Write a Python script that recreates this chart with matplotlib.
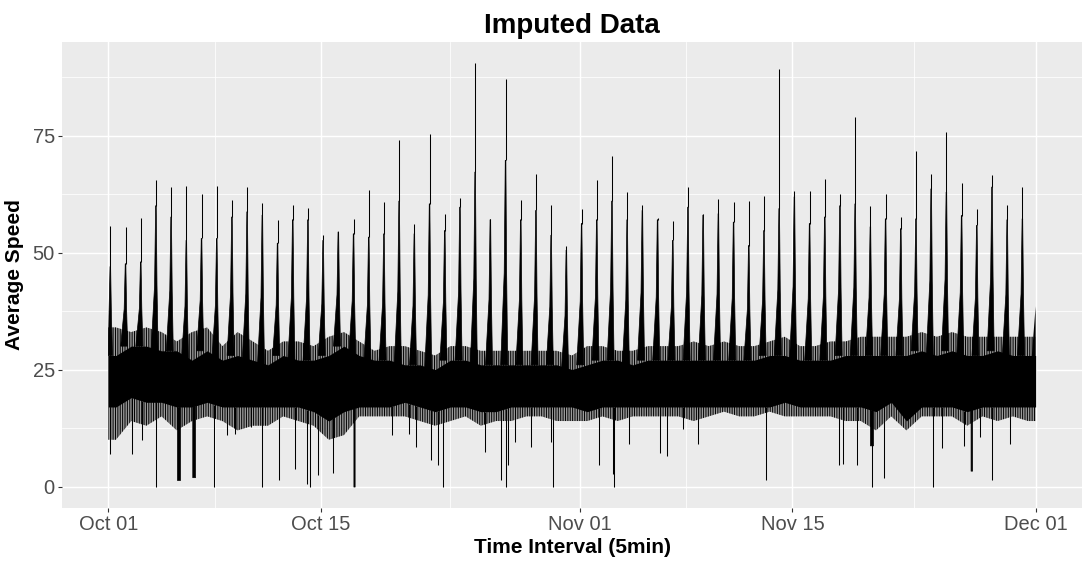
import numpy as np
import pandas as pd
import matplotlib
matplotlib.use("Agg")
import matplotlib.pyplot as plt
import matplotlib.dates as mdates

plt.rcParams["font.family"] = ["Liberation Sans", "DejaVu Sans"]
plt.rcParams["hatch.linewidth"] = 0.7
plt.rcParams["hatch.color"] = "black"

# ---- daily summary of the 5-minute speed series (Oct 01 - Nov 30) ----
start_date = "2016-10-01"
n_days = 61

# early-morning free-flow spike: needle top and top of the solid body
peak_speed = [55.6, 55.5, 57.4, 65.6, 63.9, 64.3, 62.6, 64.3, 61.2, 63.9,
              60.6, 57.0, 60.2, 59.6, 53.7, 54.4, 57.2, 63.4, 60.7, 74.1,
              56.0, 75.3, 58.2, 61.7, 90.4, 57.2, 87.1, 61.2, 66.7, 60.2,
              51.5, 59.4, 65.6, 70.6, 62.9, 60.2, 57.4, 56.7, 63.9, 58.2,
              61.5, 60.7, 61.0, 62.1, 89.2, 63.1, 63.1, 65.8, 62.6, 79.0,
              60.0, 62.6, 57.6, 71.7, 66.7, 75.8, 64.9, 59.4, 66.5, 60.1,
              64.0]
body_speed = [47.0, 47.6, 48.0, 60.0, 57.6, 52.6, 53.0, 53.0, 57.6, 58.7,
              58.0, 52.0, 57.0, 57.0, 52.6, 54.4, 54.0, 53.3, 54.0, 61.0,
              54.0, 60.4, 54.7, 59.7, 67.2, 57.0, 69.7, 57.0, 59.0, 53.7,
              50.5, 56.2, 57.0, 61.0, 57.0, 59.0, 57.0, 52.6, 59.7, 58.0,
              58.3, 56.5, 51.5, 54.7, 59.4, 61.9, 56.2, 57.6, 60.0, 60.4,
              55.5, 57.2, 55.1, 57.2, 63.6, 62.9, 57.9, 55.8, 64.0, 57.0,
              57.2]

# dense daytime band: solid core and the ragged fringe around it
core_hi = [28, 30, 30, 29, 29, 27, 29, 27, 28, 27,
           26, 28, 27, 27, 28, 30, 28, 27, 27, 26,
           26, 25, 27, 27, 26, 26, 26, 26, 26, 26,
           25, 26, 27, 27, 26, 27, 27, 27, 27, 27,
           27, 27, 27, 28, 28, 27, 27, 27, 28, 28,
           28, 28, 28, 29, 28, 29, 28, 28, 29, 28,
           28]
core_lo = [17, 19, 18, 18, 17, 17, 18, 17, 17, 17,
           17, 17, 17, 16, 14, 16, 17, 17, 17, 18,
           17, 16, 17, 17, 16, 16, 17, 17, 17, 17,
           17, 16, 17, 17, 17, 17, 17, 17, 17, 17,
           17, 17, 17, 17, 18, 17, 17, 17, 17, 17,
           16, 18, 14, 17, 17, 17, 16, 17, 17, 17,
           17]
fringe_hi = [34, 33, 34, 33, 31, 33, 34, 30, 33, 31,
             29, 31, 31, 30, 32, 33, 31, 29, 30, 30,
             29, 28, 30, 30, 29, 29, 29, 29, 29, 29,
             28, 30, 30, 29, 29, 30, 30, 30, 31, 30,
             31, 30, 30, 31, 32, 30, 30, 31, 31, 32,
             32, 32, 32, 33, 32, 33, 32, 32, 32, 32,
             32]
fringe_lo = [10, 14, 13, 15, 12, 14, 15, 14, 12, 13,
             13, 15, 14, 13, 10, 11, 15, 15, 15, 15,
             14, 13, 14, 15, 13, 14, 14, 15, 15, 14,
             14, 14, 15, 14, 15, 15, 15, 15, 14, 15,
             16, 15, 15, 16, 15, 15, 15, 15, 14, 14,
             12, 15, 12, 15, 15, 15, 13, 15, 14, 15,
             14]
end_speed = 38.5

# isolated drops (day offset from Oct 01, speed)
dip_day = [0.13, 1.58, 2.24, 3.12, 6.97, 7.78, 8.31, 9.36,
           10.10, 11.20, 12.25, 13.08, 13.24, 13.81, 14.77, 18.63, 19.79,
           20.25, 21.20, 21.70, 22.00, 24.79, 25.80, 26.13, 26.30, 26.74,
           27.79, 29.09, 29.26, 32.30, 33.18, 33.27, 34.25, 36.32, 36.73,
           37.78, 38.79, 43.26, 48.04, 48.30, 49.25, 50.23, 51.05, 54.24,
           54.81, 56.30, 57.36, 58.12, 59.33]
dip_speed = [7.0, 7.0, 10.0, 0.0, 0.0, 11.0, 11.3, 12.7,
             0.0, 1.4, 3.8, 0.6, 0.0, 2.4, 3.0, 11.0, 11.3,
             8.4, 5.7, 4.5, 0.0, 7.3, 1.3, 0.0, 4.5, 9.5,
             8.4, 9.5, 0.0, 4.5, 2.7, 0.0, 9.1, 7.1, 6.6,
             12.3, 9.1, 1.3, 4.5, 4.8, 4.5, 0.0, 1.8, 0.0,
             8.3, 8.6, 10.5, 1.3, 9.1]

# sustained slow periods (start day, end day, lowest speed)
slow_start = [4.50, 5.52, 16.12, 50.10, 56.72]
slow_end = [4.69, 5.70, 16.20, 50.30, 56.82]
slow_low = [1.3, 2.0, 0.0, 8.8, 3.4]

major_ticks = ["2016-10-01", "2016-10-15", "2016-11-01", "2016-11-15", "2016-12-01"]

# ---- figure ----
W, H = 1082, 562
fig = plt.figure(figsize=(W / 100, H / 100), dpi=100)
fig.patch.set_facecolor("white")
left, right, top, bottom = 62, 1082, 42.3, 507.7
ax = fig.add_axes([left / W, 1 - bottom / H, (right - left) / W, (bottom - top) / H])
ax.set_facecolor("#EBEBEB")

t0 = mdates.date2num(pd.Timestamp(start_date))
days = np.arange(n_days)
spike_t = t0 + days + 0.13
mid_t = t0 + days + 0.5

band_t = np.concatenate([[t0], mid_t, [t0 + n_days]])
def ext(v):
    v = np.asarray(v, float)
    return np.concatenate([[v[0]], v, [v[-1]]])

# ragged fringe shown as a dense run of thin vertical strokes
ax.fill_between(band_t, ext(fringe_lo), ext(fringe_hi), facecolor="#9a9a9a",
                edgecolor="black", hatch="|" * 7, lw=0, zorder=2)
ax.fill_between(band_t, ext(core_lo), ext(core_hi), color="black", lw=0, zorder=3)

# nightly spikes: solid rising body and thin needle to the peak
core_hi_arr = np.asarray(core_hi, float)
body_arr = np.asarray(body_speed, float)
for d in days:
    tc = spike_t[d]
    hi, bt = core_hi_arr[d], body_arr[d]
    shoulder = hi + 0.45 * (bt - hi)
    xs = np.array([tc - 0.32, tc - 0.09, tc - 0.02, tc + 0.02, tc + 0.07, tc + 0.14])
    ys = np.array([hi, shoulder, bt, bt, shoulder, hi])
    xs = np.clip(xs, t0, None)
    ax.fill(xs, ys, color="black", lw=0.5, edgecolor="black", zorder=4)
ax.vlines(spike_t, body_speed, peak_speed, color="black", lw=0.75, zorder=4)

# rise at the very end of the series
ax.fill([t0 + n_days - 0.25, t0 + n_days, t0 + n_days],
        [core_hi[-1], end_speed, core_lo[-1]], color="black", lw=0, zorder=4)

# isolated drops
dip_t = t0 + np.asarray(dip_day)
dip_base = np.interp(dip_t, band_t, ext(core_lo))
ax.vlines(dip_t, dip_speed, dip_base, color="black", lw=0.75, zorder=4)

# sustained slow periods
for s, e, lo in zip(slow_start, slow_end, slow_low):
    xs = np.array([t0 + s, t0 + e])
    ax.fill_between(xs, [lo, lo], np.interp(xs, band_t, ext(core_lo)),
                    color="black", lw=0.5, edgecolor="black", zorder=4)

# ---- scales ----
span = n_days
ax.set_xlim(t0 - 0.05 * span, t0 + span + 0.05 * span)
ymin, ymax = 0.0, max(peak_speed)
pad = 0.05 * (ymax - ymin)
ax.set_ylim(ymin - pad, ymax + pad)

major = mdates.date2num(pd.to_datetime(major_ticks))
ax.set_xticks(major)
ax.set_xticklabels([pd.Timestamp(m).strftime("%b %d") for m in major_ticks])
ax.set_xticks((major[:-1] + major[1:]) / 2, minor=True)
ax.set_yticks([0, 25, 50, 75])
ax.set_yticks([12.5, 37.5, 62.5, 87.5], minor=True)

ax.grid(which="major", color="white", lw=1.05)
ax.grid(which="minor", color="white", lw=0.55)
ax.set_axisbelow(True)
for sp in ax.spines.values():
    sp.set_visible(False)

ax.tick_params(which="major", length=2.7, width=0.8, color="#333333",
               labelsize=14.5, labelcolor="#4D4D4D", pad=2.5)
ax.tick_params(which="minor", length=0)

ax.set_xlabel("Time Interval (5min)", fontsize=15, fontweight="bold", labelpad=3)
ax.set_ylabel("Average Speed", fontsize=15, fontweight="bold", labelpad=6)
ax.set_title("Imputed Data", fontsize=20, fontweight="bold", pad=7)

fig.savefig("out.png", dpi=100)
